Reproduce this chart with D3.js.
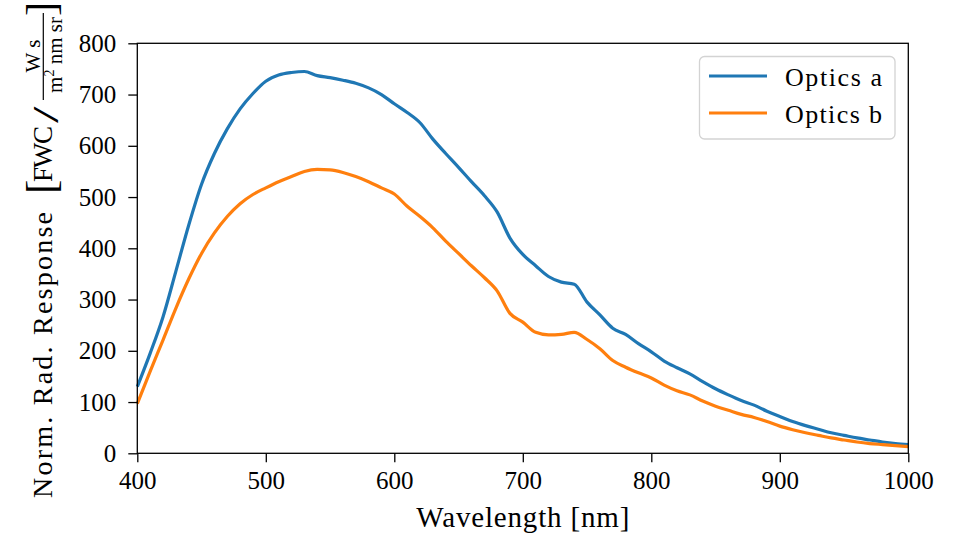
<!DOCTYPE html>
<html>
<head>
<meta charset="utf-8">
<script src="https://cdn.jsdelivr.net/npm/d3@7.9.0/dist/d3.min.js"></script>
<style>
  body { margin: 0; background: #fff; }
  text { font-family: "Liberation Serif", serif; fill: #000; }
</style>
</head>
<body>
<svg width="954" height="536"></svg>
<script>
// wavelength in nm
const wavelength = [400,410,420,430,440,450,460,470,480,490,500,510,520,530,540,550,560,570,580,590,
  600,610,620,630,640,650,660,670,680,690,700,710,720,730,740,750,760,770,780,790,
  800,810,820,830,840,850,860,870,880,890,900,910,920,930,940,950,960,970,980,990,1000];
const opticsA = [130,195,266,355,445,525,585,633,672,702,726,738,743,745,737,733,728,722,713,700,
  682,665,645,613,585,558,530,503,471,420,388,366,345,334,330,295,270,244,232,214,
  198,180,167,155,140,126,114,103,94,82,72,62,54,47,40,35,30,26,22,19,17];
const opticsB = [97,160,221,283,340,390,430,462,487,505,518,530,540,550,554,553,548,540,530,518,
  506,482,462,440,414,390,366,343,317,273,256,236,231,232,236,222,204,181,168,157,
  147,133,122,114,102,92,84,76,70,62,53,46,40,35,30,26,22,19,17,15,13];
const seriesNames = ["Optics a", "Optics b"];
const seriesColors = ["#1f77b4", "#ff7f0e"];
const xTicks = [400,500,600,700,800,900,1000];
const yTicks = [0,100,200,300,400,500,600,700,800];

const serif = "'Liberation Serif', serif";
const svg = d3.select("svg");
const x = d3.scaleLinear().domain([400, 1000]).range([137.3, 908.3]);
const y = d3.scaleLinear().domain([0, 800]).range([453.3, 43.3]);

// curves
const line = d3.line()
  .x((d, i) => x(wavelength[i]))
  .y(d => y(d))
  .curve(d3.curveMonotoneX);

[opticsA, opticsB].forEach((s, idx) => {
  svg.append("path")
    .attr("d", line(s))
    .attr("fill", "none")
    .attr("stroke", seriesColors[idx])
    .attr("stroke-width", 3.2)
    .attr("stroke-linejoin", "round");
});

// axes
const xAxis = svg.append("g")
  .attr("transform", `translate(0,${y(0)})`)
  .call(d3.axisBottom(x).tickValues(xTicks).tickSize(9).tickSizeOuter(0).tickPadding(9).tickFormat(d3.format("d")));
const yAxis = svg.append("g")
  .attr("transform", `translate(${x(400)},0)`)
  .call(d3.axisLeft(y).tickValues(yTicks).tickSize(9).tickSizeOuter(0).tickPadding(12).tickFormat(d3.format("d")));
[xAxis, yAxis].forEach(g => {
  g.attr("font-family", null).attr("font-size", 25);
  g.select(".domain").remove();
  g.selectAll("line").attr("stroke", "#000").attr("stroke-width", 1.3);
  g.selectAll("text").attr("fill", "#000").style("font-family", serif);
});

// frame
svg.append("rect")
  .attr("x", x(400)).attr("y", y(800))
  .attr("width", x(1000) - x(400)).attr("height", y(0) - y(800))
  .attr("fill", "none").attr("stroke", "#000").attr("stroke-width", 1.3);

// x label
svg.append("text")
  .attr("x", (x(400) + x(1000)) / 2).attr("y", 526.7)
  .attr("text-anchor", "middle").attr("font-size", 29)
  .attr("textLength", 213).attr("lengthAdjust", "spacing")
  .text("Wavelength [nm]");

// y label, rotated: u = -screenY, v = screenX
const yl = svg.append("g").attr("transform", "rotate(-90)");
yl.append("text").attr("x", -498).attr("y", 52).attr("font-size", 28)
  .attr("textLength", 286).attr("lengthAdjust", "spacing")
  .text("Norm. Rad. Response");
yl.append("text").attr("x", -194).attr("y", 55).attr("font-size", 43).text("[");
yl.append("text").attr("x", -182).attr("y", 52).attr("font-size", 27)
  .attr("textLength", 56).attr("lengthAdjust", "spacing").text("FWC");
yl.append("text").attr("transform", "translate(-123,58) scale(1.7,1)")
  .attr("font-size", 35).attr("font-weight", 300).text("/");
yl.append("line").attr("x1", -100).attr("x2", -13).attr("y1", 43.3).attr("y2", 43.3)
  .attr("stroke", "#000").attr("stroke-width", 1.2);
yl.append("text").attr("x", -56).attr("y", 39.5).attr("font-size", 21)
  .attr("text-anchor", "middle").text("W s");
const den = yl.append("text").attr("x", -55).attr("y", 62).attr("font-size", 21)
  .attr("text-anchor", "middle");
den.append("tspan").text("m");
den.append("tspan").attr("font-size", 14).attr("dy", -8).text("2");
den.append("tspan").attr("dy", 8).text(" nm sr");
yl.append("text").attr("x", -16).attr("y", 55).attr("font-size", 43).text("]");

// legend
const lg = svg.append("g");
lg.append("rect")
  .attr("x", 699.5).attr("y", 56.5).attr("width", 195.5).attr("height", 82.5).attr("rx", 5)
  .attr("fill", "#fff").attr("fill-opacity", 0.8)
  .attr("stroke", "#d3d3d3").attr("stroke-width", 1.3);
seriesNames.forEach((name, i) => {
  const ly = 76 + i * 37;
  lg.append("line").attr("x1", 709).attr("x2", 767).attr("y1", ly).attr("y2", ly)
    .attr("stroke", seriesColors[i]).attr("stroke-width", 3.2);
  lg.append("text").attr("x", 785).attr("y", ly + 10).attr("font-size", 26)
    .attr("textLength", 97).attr("lengthAdjust", "spacing").text(name);
});
</script>
</body>
</html>
